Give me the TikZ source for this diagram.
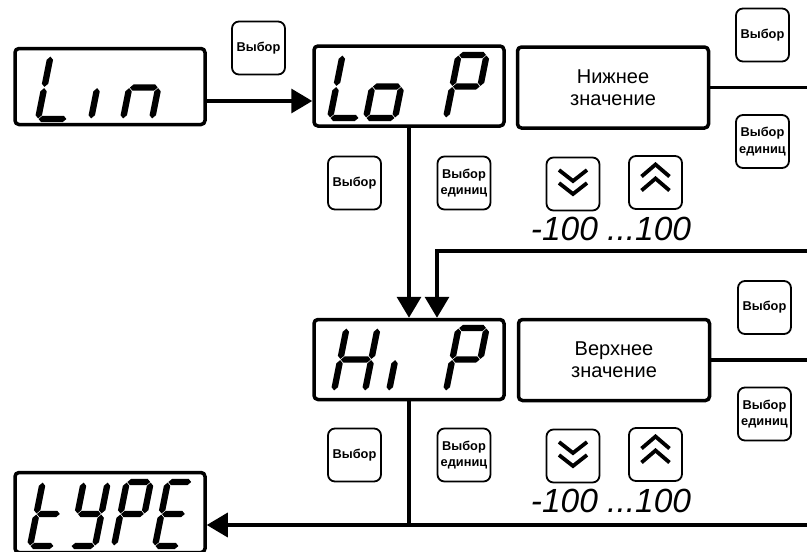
\documentclass[tikz,border=0pt]{standalone}
\usepackage{fontspec}
\setmainfont{Liberation Sans}
\usetikzlibrary{arrows.meta}

% seven-segment helpers (local coords: x right, y down, bottom-left origin)
\newcommand\hsg[3]{\fill ({#1+0.6},{#3}) -- ({#1+3.8},{#3-3.2}) -- ({#2-3.8},{#3-3.2}) -- ({#2-0.6},{#3}) -- ({#2-3.8},{#3+3.2}) -- ({#1+3.8},{#3+3.2}) -- cycle;}
\newcommand\vsg[3]{\fill ({#1},{#2+0.6}) -- ({#1+3.2},{#2+3.8}) -- ({#1+3.2},{#3-3.8}) -- ({#1},{#3-0.6}) -- ({#1-3.2},{#3-3.8}) -- ({#1-3.2},{#2+3.8}) -- cycle;}
\newcommand\sgA{\hsg{0}{\dw}{-\dh}}
\newcommand\sgB{\vsg{\dw}{-\dh}{-\dh/2}}
\newcommand\sgC{\vsg{\dw}{-\dh/2}{0}}
\newcommand\sgD{\hsg{0}{\dw}{0}}
\newcommand\sgE{\vsg{0}{-\dh/2}{0}}
\newcommand\sgF{\vsg{0}{-\dh}{-\dh/2}}
\newcommand\sgG{\hsg{0}{\dw}{-\dh/2}}
\newcommand\sevseg[5]{\begin{scope}[shift={(#1,#2)},xslant=0.2]\def\dw{#3}\def\dh{#4}#5\end{scope}}

\begin{document}
\begin{tikzpicture}[x=1pt,y=-1pt,
  disp/.style={draw, line width=3.5pt, rounded corners=4pt, minimum width=190pt, minimum height=80pt, inner sep=0pt},
  info/.style={draw, line width=3.5pt, rounded corners=4pt, minimum width=191pt, minimum height=81pt, inner sep=0pt, align=center, font=\fontsize{20}{22}\selectfont},
  btn/.style={draw, line width=1.8pt, rounded corners=7pt, minimum width=53pt, minimum height=53pt, inner sep=0pt, align=center, font=\fontsize{12.8}{16.5}\selectfont\bfseries},
  conn/.style={line width=3.5pt},
  arr/.style={conn, -{Triangle[length=21pt,width=24pt]}},
  rng/.style={inner sep=0pt, anchor=base, font=\fontsize{33.5}{36}\selectfont\itshape},
  chev/.style={line width=3.8pt, line cap=butt, line join=miter}
]
\useasboundingbox (0,0) rectangle (807,552);

% displays
\node[disp, minimum height=76pt] (lin) at (110,86.5) {};
\node[disp] (lop) at (409,86) {};
\node[disp] (hip) at (409,359.5) {};
\node[disp] (type) at (110,512.5) {};

% info boxes
\node[info] (low) at (613,87.5) {Нижнее\\значение};
\node[info] (high) at (614,360) {Верхнее\\значение};

% buttons
\node[btn] (b1) at (258.5,48) {Выбор};
\node[btn] (b2) at (762.5,35) {Выбор};
\node[btn] (b3) at (762.5,141.5) {Выбор\\единиц};
\node[btn] (b4) at (354.5,183) {Выбор};
\node[btn] (b5) at (464,183) {Выбор\\единиц};
\node[btn] (b6) at (573,184) {};
\node[btn] (b7) at (655.5,182.5) {};
\node[btn] (b8) at (764.5,307.5) {Выбор};
\node[btn] (b9) at (764.5,414) {Выбор\\единиц};
\node[btn] (b10) at (354.5,455) {Выбор};
\node[btn] (b11) at (464,455) {Выбор\\единиц};
\node[btn] (b12) at (573,456) {};
\node[btn] (b13) at (655.5,454.5) {};

% chevrons
\foreach \b in {b6,b12}{
  \draw[chev] (\b.center) ++(-14,-14) -- ++(14,11) -- ++(14,-11);
  \draw[chev] (\b.center) ++(-14,-1) -- ++(14,11) -- ++(14,-11);
}
\foreach \b in {b7,b13}{
  \draw[chev] (\b.center) ++(-14,-6) -- ++(14,-12) -- ++(14,12);
  \draw[chev] (\b.center) ++(-14,8) -- ++(14,-12) -- ++(14,12);
}

% range labels
\node[rng] (rng1) at (611,240) {-100 ...100};
\node[rng] (rng2) at (611,512) {-100 ...100};

% free ends on the right
\coordinate (r0) at (807,87.5);
\coordinate (r1) at (807,251);
\coordinate (r2) at (807,360);
\coordinate (r3) at (807,525);

% connectors
\draw[arr] (lin.east |- 0,101) -- (lop.west |- 0,101);
\draw[arr] (lop.south) -- (hip.north);
\draw[arr] (r1) -| ([xshift=28pt]hip.north);
\draw[conn] (low.east) -- (r0);
\draw[conn] (high.east) -- (r2);
\draw[conn] (hip.south) -- (hip.south |- r3);
\draw[arr] (r3) -- (type.east |- r3);

% seven-segment glyphs
% Lin
\sevseg{38}{119}{29}{63}{\sgD\sgE\sgF}
\sevseg{91}{119}{29}{63}{\sgE}
\sevseg{123}{119}{29}{63}{\sgC\sgE\sgG}
% Lo P
\sevseg{330}{118}{29}{63}{\sgD\sgE\sgF}
\sevseg{366}{118}{29}{63}{\sgC\sgD\sgE\sgG}
\sevseg{446}{118}{28}{63}{\sgA\sgB\sgE\sgF\sgG}
% Hi P
\sevseg{334}{391}{31}{63}{\sgB\sgC\sgE\sgF\sgG}
\sevseg{389}{391}{29}{63}{\sgE}
\sevseg{446}{391}{28}{63}{\sgA\sgB\sgE\sgF\sgG}
% tYPE
\sevseg{30}{546}{24}{64}{\sgD\sgE\sgF\sgG}
\sevseg{71}{546}{24}{64}{\sgB\sgC\sgD\sgF\sgG}
\sevseg{114}{546}{24}{64}{\sgA\sgB\sgE\sgF\sgG}
\sevseg{155}{546}{24}{64}{\sgA\sgD\sgE\sgF\sgG}
\end{tikzpicture}
\end{document}
